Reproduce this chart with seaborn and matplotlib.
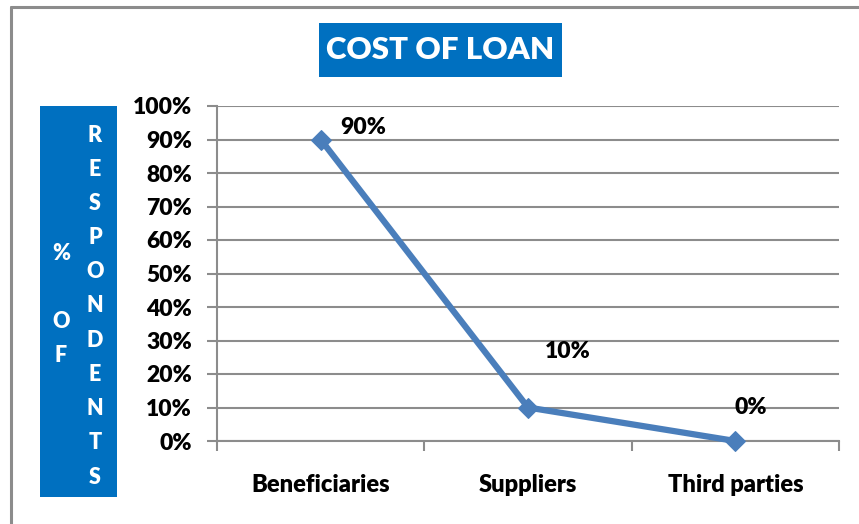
import matplotlib
matplotlib.use("Agg")
import matplotlib.pyplot as plt
import seaborn as sns
import pandas as pd
from matplotlib.patches import Rectangle
from matplotlib.lines import Line2D
from matplotlib.ticker import FixedLocator, PercentFormatter

# Data
categories = ["Beneficiaries", "Suppliers", "Third parties"]
shares = [90, 10, 0]
value_labels = ["90%", "10%", "0%"]
y_ticks = [0, 10, 20, 30, 40, 50, 60, 70, 80, 90, 100]

title = "COST OF LOAN"
ylabel_cols = [["%", "", "O", "F"], list("RESPONDENTS")]

sns.set_theme(style="white")
plt.rcParams["font.family"] = ["Lato", "DejaVu Sans"]
WEIGHT = "heavy"

W, H = 859, 524
fig = plt.figure(figsize=(W / 100, H / 100), dpi=100)
ax = fig.add_axes([217 / W, 1 - 441 / H, (839 - 217) / W, (441 - 106) / H])

df = pd.DataFrame({"category": categories, "share": shares})
line_color = "#4A7EBB"
sns.lineplot(data=df, x="category", y="share", ax=ax, color=line_color,
             linewidth=4.5, marker="D", markersize=10,
             markeredgecolor=line_color, sort=False, clip_on=False, zorder=5)

ax.set_xlim(-0.5, len(categories) - 0.5)
ax.set_ylim(0, 100)
ax.set_xlabel("")
ax.set_ylabel("")

grid_c = "#8C8C8C"
ax.yaxis.set_major_locator(FixedLocator(y_ticks))
ax.yaxis.set_major_formatter(PercentFormatter(decimals=0))
ax.grid(axis="y", color=grid_c, linewidth=1.5)
ax.grid(axis="x", visible=False)
ax.set_axisbelow(True)

ax.set_xticks(range(len(categories)))
ax.set_xticklabels(categories)
ax.set_xticks([i - 0.5 for i in range(len(categories) + 1)], minor=True)
ax.tick_params(axis="x", which="major", length=0, pad=24, labelsize=17)
ax.tick_params(axis="x", which="minor", length=7, width=1.5, color=grid_c,
               direction="out", bottom=True)
ax.tick_params(axis="y", which="major", length=7, width=1.5, color=grid_c,
               direction="out", left=True, pad=11, labelsize=16.5)
for lab in ax.get_xticklabels() + ax.get_yticklabels():
    lab.set_fontweight(WEIGHT)
    lab.set_color("black")

for side in ["top", "right"]:
    ax.spines[side].set_visible(False)
for side in ["left", "bottom"]:
    ax.spines[side].set_color(grid_c)
    ax.spines[side].set_linewidth(1.5)

# Value labels
offsets = [(14, 9), (12, 40), (11, 24)]
for i, (v, t) in enumerate(zip(shares, value_labels)):
    ax.annotate(t, (i, v), xytext=offsets[i], textcoords="offset points",
                fontsize=16.5, fontweight=WEIGHT, ha="left" if i < 2 else "center",
                va="center", color="black")

# Outer frame (top and left edges)
fig.add_artist(Line2D([11 / W, 11 / W], [0, 1 - 7 / H], transform=fig.transFigure,
                      color="#8C8C8C", linewidth=2.2))
fig.add_artist(Line2D([11 / W, 1], [1 - 7 / H, 1 - 7 / H], transform=fig.transFigure,
                      color="#8C8C8C", linewidth=2.2))

blue = "#0070C0"
# Title box
fig.add_artist(Rectangle((319 / W, 1 - 77 / H), (562 - 319) / W, (77 - 23) / H,
                         transform=fig.transFigure, facecolor=blue, edgecolor="none"))
fig.text(440.5 / W, 1 - 50 / H, title, ha="center", va="center", color="white",
         fontsize=22.5, fontweight=WEIGHT)

# Y-axis label box with stacked letters
fig.add_artist(Rectangle((40 / W, 1 - 497 / H), (117 - 40) / W, (497 - 106) / H,
                         transform=fig.transFigure, facecolor=blue, edgecolor="none"))
col_x = [61, 95]
col_y0 = [253, 135]
step = 34.2
for cx, y0, letters in zip(col_x, col_y0, ylabel_cols):
    for k, ch in enumerate(letters):
        fig.text(cx / W, 1 - (y0 + k * step) / H, ch, ha="center", va="center",
                 color="white", fontsize=15.5, fontweight=WEIGHT)

fig.savefig("out.png", dpi=100, facecolor="white")
